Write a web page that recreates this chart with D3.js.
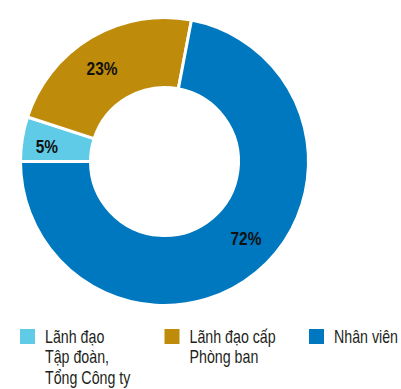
<!DOCTYPE html>
<html>
<head>
<meta charset="utf-8">
<script src="https://cdnjs.cloudflare.com/ajax/libs/d3/7.8.5/d3.min.js"></script>
<style>
  body { margin: 0; background: #fff; }
  text { font-family: "Liberation Sans", Arial, sans-serif; }
</style>
</head>
<body>
<div id="chart"></div>
<script>
// data
var categories = ["Lãnh đạo Tập đoàn, Tổng Công ty", "Lãnh đạo cấp Phòng ban", "Nhân viên"];
var legendLines = [["Lãnh đạo", "Tập đoàn,", "Tổng Công ty"], ["Lãnh đạo cấp", "Phòng ban"], ["Nhân viên"]];
var shares = [5, 23, 72];
var colors = ["#5fcbe6", "#bf8b0b", "#0078bf"];

// small hand nudges for the % labels
var labelNudge = [[-10, 2], [-7, 1], [12, -7]];

function draw_donut() {

	var width= 401, height= 389;
	var cx= 164.5, cy= 161.5;
	var outerR= 144, innerR= 74;
	var narrow= 0.79; // the original font is a condensed one

	var svg= d3.select("#chart")
		.append("svg")
		.attr("width", width)
		.attr("height", height);

	var color= d3.scaleOrdinal().domain(categories).range(colors);

	var pie= d3.pie()
		.sort(null)
		.value(function(d) { return d.v; })
		.startAngle(1.5* Math.PI)
		.endAngle(3.5* Math.PI);

	var arc= d3.arc().innerRadius(innerR).outerRadius(outerR);

	var rows= categories.map(function(c, i) { return {name: c, v: shares[i], i: i}; });

	var g= svg.append("g")
		.attr("transform", "translate(" + cx + "," + cy + ")");

	g.selectAll("path")
		.data(pie(rows))
		.enter().append("path")
			.attr("d", arc)
			.attr("fill", function(d) { return color(d.data.name); })
			.attr("stroke", "#fff")
			.attr("stroke-width", 3);

	g.selectAll("text.pct")
		.data(pie(rows))
		.enter().append("text")
			.attr("class", "pct")
			.attr("transform", function(d) {
				var c= arc.centroid(d);
				return "translate(" + (c[0] + labelNudge[d.data.i][0]) + "," + (c[1] + labelNudge[d.data.i][1]) + ") scale(0.86,1)";
			})
			.attr("dy", "0.35em")
			.style("text-anchor", "middle")
			.style("font-weight", "bold")
			.style("font-size", "18px")
			.style("fill", "#111")
			.text(function(d) { return d.data.v + "%"; });

	// legend
	var legendX= d3.scalePoint().domain(categories).range([20, 309]);

	var item= svg.selectAll("g.legend")
		.data(categories)
		.enter().append("g")
			.attr("class", "legend")
			.attr("transform", function(d) { return "translate(" + legendX(d) + ",329)"; });

	item.append("rect")
		.attr("width", 15)
		.attr("height", 15)
		.attr("fill", function(d) { return color(d); });

	item.each(function(d, i) {
		var t= d3.select(this).append("text")
			.attr("transform", "translate(25,14) scale(" + narrow + ",1)")
			.style("font-size", "18px")
			.style("fill", "#231f20");
		legendLines[i].forEach(function(line, k) {
			t.append("tspan")
				.attr("x", 0)
				.attr("dy", k== 0 ? 0 : 20.5)
				.text(line);
		});
	});
};

draw_donut();
</script>
</body>
</html>
